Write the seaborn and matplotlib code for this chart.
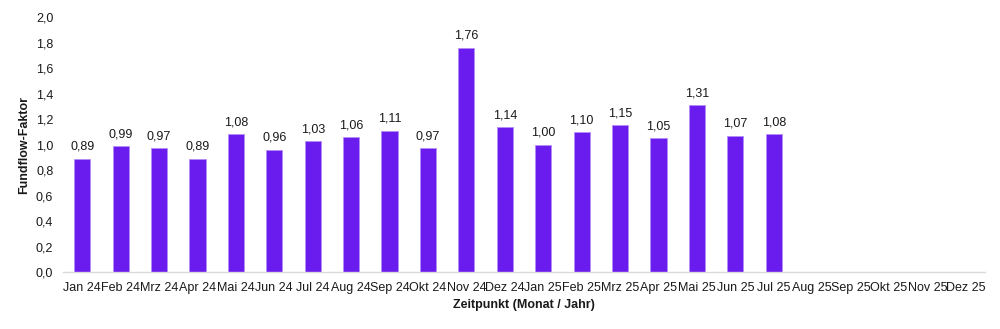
import matplotlib
matplotlib.use("Agg")
import matplotlib.pyplot as plt
import seaborn as sns
import pandas as pd
import numpy as np
from matplotlib.ticker import FuncFormatter

months = ["Jan 24", "Feb 24", "Mrz 24", "Apr 24", "Mai 24", "Jun 24", "Jul 24", "Aug 24",
          "Sep 24", "Okt 24", "Nov 24", "Dez 24", "Jan 25", "Feb 25", "Mrz 25", "Apr 25",
          "Mai 25", "Jun 25", "Jul 25", "Aug 25", "Sep 25", "Okt 25", "Nov 25", "Dez 25"]
values = [0.89, 0.99, 0.97, 0.89, 1.08, 0.96, 1.03, 1.06, 1.11, 0.97, 1.76, 1.14,
          1.00, 1.10, 1.15, 1.05, 1.31, 1.07, 1.08]

sns.set_theme(style="white")
plt.rcParams['font.family'] = ['Liberation Sans', 'DejaVu Sans']

df = pd.DataFrame({"Monat": months[:len(values)], "Wert": values})

fig = plt.figure(figsize=(10, 3.29), dpi=100)
ax = fig.add_axes([0.063, 0.173, 0.922, 0.775])
sns.barplot(data=df, x="Monat", y="Wert", order=months, color="#6A1BEE",
            width=0.42, edgecolor="#B38CF5", linewidth=0.6, saturation=1, ax=ax)

for i, v in enumerate(values):
    ax.text(i, v + 0.045, f"{v:.2f}".replace(".", ","), ha="center", va="bottom",
            fontsize=9, color="#1a1a1a")

ax.set_ylim(0, 2.0)
ax.set_xlim(-0.5, len(months) - 0.5)
ax.set_yticks(np.arange(0, 2.01, 0.2))
ax.yaxis.set_major_formatter(FuncFormatter(lambda y, p: f"{y:.1f}".replace(".", ",")))
ax.tick_params(axis="both", labelsize=9, colors="#1a1a1a", length=0)
ax.tick_params(axis="x", pad=7)
ax.tick_params(axis="y", pad=7)
ax.set_ylabel("Fundflow-Faktor", fontsize=9, fontweight="bold", color="#1a1a1a", labelpad=4)
ax.set_xlabel("Zeitpunkt (Monat / Jahr)", fontsize=9, fontweight="bold", color="#1a1a1a", labelpad=4)
for s in ["top", "right", "left"]:
    ax.spines[s].set_visible(False)
ax.spines["bottom"].set_color("#d9d9d9")
ax.spines["bottom"].set_linewidth(1)

fig.savefig("out.png", dpi=100)
